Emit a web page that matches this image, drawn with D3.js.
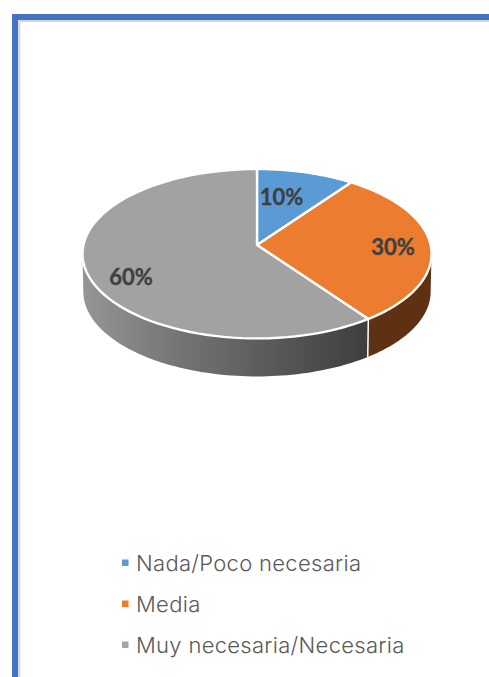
<!DOCTYPE html>
<html><head><meta charset="utf-8">
<script src="https://cdn.jsdelivr.net/npm/d3@7"></script>
<style>html,body{margin:0;padding:0;background:#fff;overflow:hidden}svg{display:block}</style>
</head><body><svg id="c" width="489" height="677"></svg>
<script>
const categories = ["Nada/Poco necesaria", "Media", "Muy necesaria/Necesaria"];
const values = [10, 30, 60];
const labels = ["10%", "30%", "60%"];
const topColors = ["#5b9bd5", "#eb7c30", "#a2a2a2"];
const legendColors = ["#5b9bd5", "#ed7d31", "#a5a5a5"];

const W = 489, H = 677;
const svg = d3.select("#c");
const cx = 257, cy = 245, rx = 173.6, ry = 83.8, k = 0.103, depth = 38;

// frame
svg.append("rect").attr("x",18).attr("y",20).attr("width",W).attr("height",2).attr("fill","#d4d4d4");
svg.append("rect").attr("x",18).attr("y",20).attr("width",2.5).attr("height",H).attr("fill","#dcdcdc");
svg.append("rect").attr("x",12).attr("y",14).attr("width",W).attr("height",6).attr("fill","#4472c4");
svg.append("rect").attr("x",12).attr("y",14).attr("width",6).attr("height",H).attr("fill","#4472c4");

// perspective projection of the pie disc
const project = (a, r, drop) => {
  const u = r*Math.sin(a), v = r*Math.cos(a), d = 1 + k*v;
  const s = drop ? 0.995 : 1;
  return [cx + s*rx*u/d, cy - ry*v/d + (drop ? depth : 0)];
};
const pie = d3.pie().sort(null).value(d => d)(values);
const line = d3.line();
const sample = (a0, a1, drop) => d3.range(0, 81).map(i => project(a0 + (a1-a0)*i/80, 1, drop));

const defs = svg.append("defs");
const grad = defs.append("linearGradient").attr("id","sideGray")
  .attr("gradientUnits","userSpaceOnUse")
  .attr("x1",cx-rx).attr("x2",project(pie[1].endAngle,1,false)[0]).attr("y1",0).attr("y2",0);
[[0,"#959595"],[0.35,"#737373"],[0.7,"#565656"],[1,"#3e3e3e"]].forEach(s =>
  grad.append("stop").attr("offset",s[0]).attr("stop-color",s[1]));

// side walls: only the front-facing stretch of the rim
const visMin = Math.acos(-k), visMax = 2*Math.PI - visMin;
const sideFill = ["#3d6a94", "#5f3113", "url(#sideGray)"];
pie.forEach((p, i) => {
  const a0 = Math.max(p.startAngle, visMin), a1 = Math.min(p.endAngle, visMax);
  if (a1 <= a0) return;
  const pts = sample(a0, a1, false).concat(sample(a1, a0, true));
  svg.append("path").attr("d", line(pts) + "Z").attr("fill", sideFill[i]);
});
// seam between the orange and gray walls
const seam = pie[1].endAngle;
svg.append("line")
  .attr("x1",project(seam,1,false)[0]).attr("y1",project(seam,1,false)[1])
  .attr("x2",project(seam,1,true)[0]).attr("y2",project(seam,1,true)[1])
  .attr("stroke","#fff").attr("stroke-width",1.5);

// top face
pie.forEach((p, i) => {
  const pts = [[cx,cy]].concat(sample(p.startAngle, p.endAngle, false));
  svg.append("path").attr("d", line(pts) + "Z")
    .attr("fill", topColors[i]).attr("stroke","#fff").attr("stroke-width",2.4).attr("stroke-linejoin","round");
});

// value labels
const labelPos = [[281.5,196],[393,246],[131,276]];
labels.forEach((t,i) => {
  svg.append("text").attr("x",labelPos[i][0]).attr("y",labelPos[i][1])
    .attr("text-anchor","middle").attr("dominant-baseline","central")
    .attr("font-family","Lato, sans-serif").attr("font-weight",700)
    .attr("font-size",22).attr("fill","#404040")
    .attr("stroke","#404040").attr("stroke-width",0.35).text(t);
});

// legend
const legendY = d3.scalePoint().domain(categories).range([563,645]);
categories.forEach((c,i) => {
  const y = legendY(c);
  svg.append("rect").attr("x",122).attr("y",y-3.5).attr("width",6.5).attr("height",6.5).attr("fill",legendColors[i]);
  svg.append("text").attr("x",136).attr("y",y+7.5)
    .attr("font-family","Inter, sans-serif").attr("font-weight",300)
    .attr("font-size",22).attr("letter-spacing",0.3).attr("fill","#595959").text(c);
});
</script></body></html>
